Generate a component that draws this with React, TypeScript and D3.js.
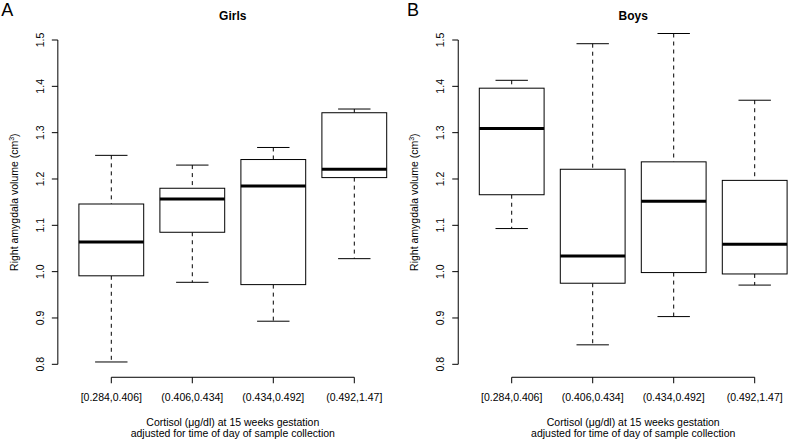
import React from "react";
import * as d3 from "d3";

const categories = ["[0.284,0.406]", "(0.406,0.434]", "(0.434,0.492]", "(0.492,1.47]"];
const yTicks = [0.8, 0.9, 1.0, 1.1, 1.2, 1.3, 1.4, 1.5];

// [lowerWhisker, Q1, median, Q3, upperWhisker]
const girlsLow = [0.805, 0.977, 0.893, 1.028];
const girlsQ1 = [0.991, 1.085, 0.972, 1.203];
const girlsMed = [1.064, 1.157, 1.185, 1.221];
const girlsQ3 = [1.146, 1.180, 1.242, 1.343];
const girlsHigh = [1.251, 1.230, 1.268, 1.351];

const boysLow = [1.093, 0.842, 0.903, 0.971];
const boysQ1 = [1.166, 0.975, 0.998, 0.995];
const boysMed = [1.309, 1.034, 1.152, 1.059];
const boysQ3 = [1.396, 1.221, 1.237, 1.197];
const boysHigh = [1.413, 1.492, 1.514, 1.370];

const FONT = "'Liberation Sans', Arial, Helvetica, sans-serif";

type PanelProps = {
  ox: number;
  letter: string;
  letterX: number;
  title: string;
  low: number[];
  q1: number[];
  med: number[];
  q3: number[];
  high: number[];
};

function Panel({ ox, letter, letterX, title, low, q1, med, q3, high }: PanelProps) {
  const y = d3.scaleLinear().domain([0.8, 1.5]).range([364.3, 40]);
  const x = d3.scaleLinear().domain([1, 4]).range([111.3, 354.3]);
  const step = x(2) - x(1);
  const boxW = step * 0.8;
  const capW = boxW * 0.5;
  const plotLeft = x(1) - 0.66 * step;
  const plotRight = x(4) + 0.66 * step;
  const plotTop = y(1.528);
  const plotBottom = y(0.772);
  const cx = (plotLeft + plotRight) / 2;
  const cy = (plotTop + plotBottom) / 2;
  const axisX = plotLeft;
  const axisY = plotBottom;

  return (
    <g transform={`translate(${ox},0)`} fontFamily={FONT} fill="#000">
      <text x={letterX} y={16} fontSize={18}>{letter}</text>
      <text x={cx} y={20.3} fontSize={12} fontWeight="bold" textAnchor="middle">{title}</text>

      {/* y axis */}
      <line x1={axisX} x2={axisX} y1={y(0.8)} y2={y(1.5)} stroke="#000" strokeWidth={1} />
      {yTicks.map((t) => (
        <g key={t}>
          <line x1={axisX - 6} x2={axisX} y1={y(t)} y2={y(t)} stroke="#000" strokeWidth={1} />
          <text
            transform={`translate(${43.8},${y(t)}) rotate(-90)`}
            fontSize={10.5}
            textAnchor="middle"
          >
            {d3.format(".1f")(t)}
          </text>
        </g>
      ))}
      <text transform={`translate(17.5,${cy}) rotate(-90)`} fontSize={10.5} textAnchor="middle">
        Right amygdala volume (cm<tspan fontSize={7} dy={-4}>3</tspan><tspan dy={4}>)</tspan>
      </text>

      {/* x axis */}
      <line x1={x(1)} x2={x(4)} y1={axisY} y2={axisY} stroke="#000" strokeWidth={1} />
      {categories.map((c, i) => (
        <g key={c}>
          <line x1={x(i + 1)} x2={x(i + 1)} y1={axisY} y2={axisY + 6} stroke="#000" strokeWidth={1} />
          <text x={x(i + 1)} y={400.5} fontSize={10.5} textAnchor="middle">{c}</text>
        </g>
      ))}
      <text x={cx} y={425.5} fontSize={10.5} textAnchor="middle">Cortisol (μg/dl) at 15 weeks gestation</text>
      <text x={cx} y={437.2} fontSize={10.5} textAnchor="middle">adjusted for time of day of sample collection</text>

      {/* boxes */}
      {categories.map((c, i) => {
        const xc = x(i + 1);
        return (
          <g key={"b" + c}>
            <line x1={xc} x2={xc} y1={y(high[i])} y2={y(q3[i])} stroke="#000" strokeWidth={1} strokeDasharray="4,4" />
            <line x1={xc} x2={xc} y1={y(q1[i])} y2={y(low[i])} stroke="#000" strokeWidth={1} strokeDasharray="4,4" />
            <line x1={xc - capW / 2} x2={xc + capW / 2} y1={y(high[i])} y2={y(high[i])} stroke="#000" strokeWidth={1} />
            <line x1={xc - capW / 2} x2={xc + capW / 2} y1={y(low[i])} y2={y(low[i])} stroke="#000" strokeWidth={1} />
            <rect
              x={xc - boxW / 2}
              y={y(q3[i])}
              width={boxW}
              height={y(q1[i]) - y(q3[i])}
              fill="#fff"
              stroke="#000"
              strokeWidth={1}
            />
            <line x1={xc - boxW / 2} x2={xc + boxW / 2} y1={y(med[i])} y2={y(med[i])} stroke="#000" strokeWidth={3} />
          </g>
        );
      })}
    </g>
  );
}

export default function App() {
  return (
    <div style={{ position: "absolute", left: 0, top: 0 }}>
      <svg width={789} height={441} style={{ display: "block", background: "#fff" }}>
        <rect width={789} height={441} fill="#fff" />
        <Panel ox={0} letter="A" letterX={1.2} title="Girls" low={girlsLow} q1={girlsQ1} med={girlsMed} q3={girlsQ3} high={girlsHigh} />
        <Panel ox={400.4} letter="B" letterX={6.6} title="Boys" low={boysLow} q1={boysQ1} med={boysMed} q3={boysQ3} high={boysHigh} />
      </svg>
    </div>
  );
}
